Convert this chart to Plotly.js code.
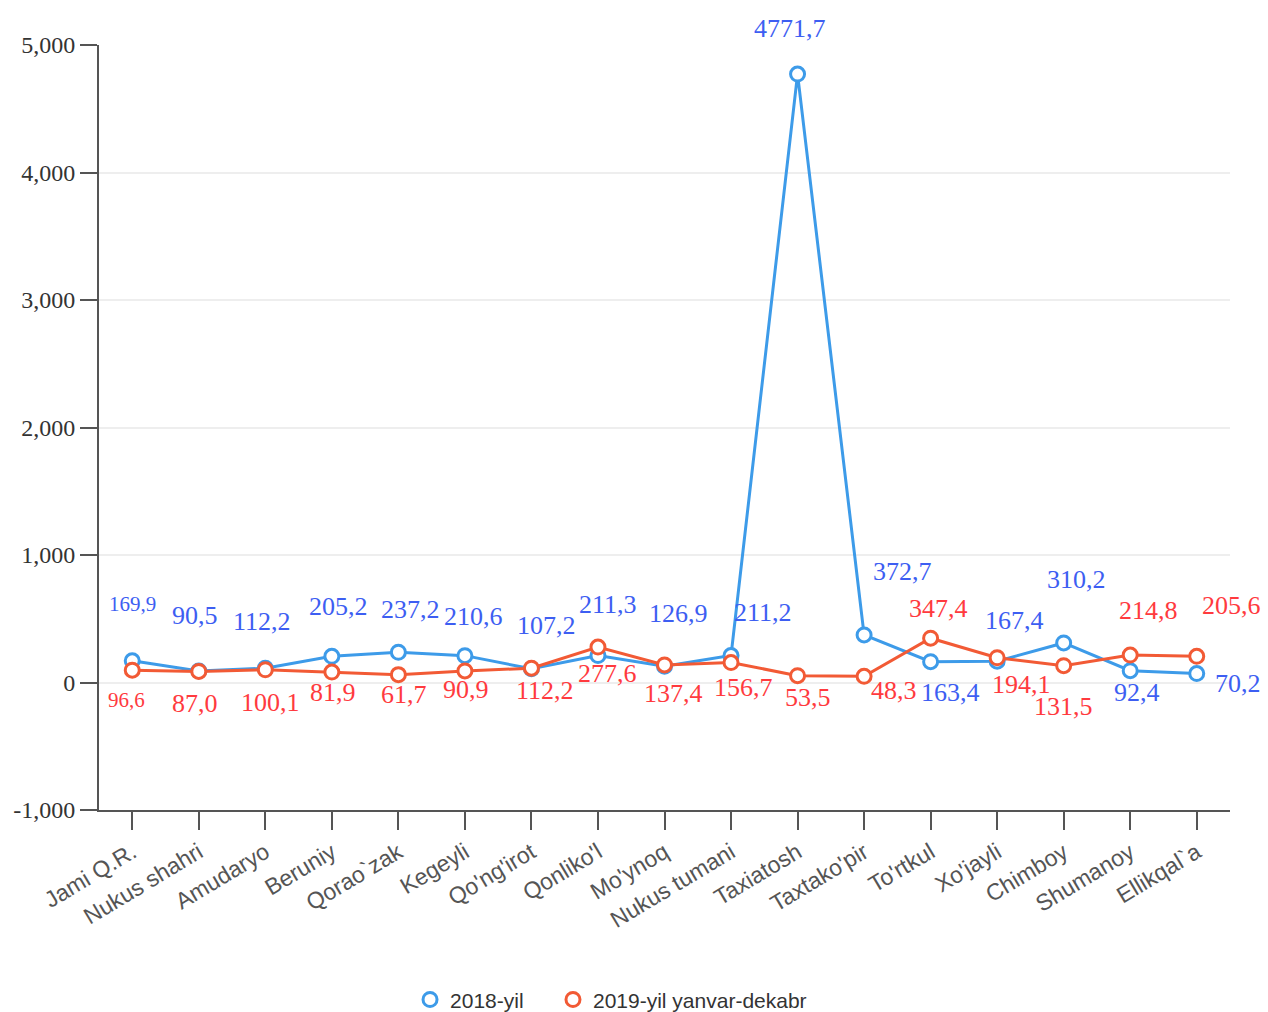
<!DOCTYPE html>
<html>
<head>
<meta charset="utf-8">
<script src="https://cdn.plot.ly/plotly-3.0.1.min.js"></script>
<style>
  html, body { margin: 0; padding: 0; background: #ffffff; }
  #chart { width: 1268px; height: 1012px; }
</style>
</head>
<body>
<div id="chart"></div>
<script>
// ---- data ----
const categories = ["Jami Q.R.", "Nukus shahri", "Amudaryo", "Beruniy", "Qorao`zak", "Kegeyli",
  "Qo'ng'irot", "Qonliko'l", "Mo'ynoq", "Nukus tumani", "Taxiatosh", "Taxtako'pir",
  "To'rtkul", "Xo'jayli", "Chimboy", "Shumanoy", "Ellikqal`a"];
const values2018 = [169.9, 90.5, 112.2, 205.2, 237.2, 210.6, 107.2, 211.3, 126.9, 211.2, 4771.7, 372.7, 163.4, 167.4, 310.2, 92.4, 70.2];
const values2019 = [96.6, 87.0, 100.1, 81.9, 61.7, 90.9, 112.2, 277.6, 137.4, 156.7, 53.5, 48.3, 347.4, 194.1, 131.5, 214.8, 205.6];
const seriesNames = ["2018-yil", "2019-yil yanvar-dekabr"];
const yTickVals = [-1000, 0, 1000, 2000, 3000, 4000, 5000];
const yTickText = ["-1,000", "0", "1,000", "2,000", "3,000", "4,000", "5,000"];

// ---- label placement (pixel offsets from each point) ----
const blueShift = [[0,57],[-4,55],[-3,47],[7,50],[12,43],[9,39],[15,43],[10,51],[14,53],[32,43],[-8,46],[38,63],[20,-31],[17,41],[13,63],[7,-22],[41,-10]];
const redShift  = [[-6,-30],[-4,-32],[5,-33],[1,-20],[6,-20],[1,-19],[14,-22],[10,-26],[9,-29],[12,-25],[10,-22],[30,-14],[8,30],[24,-27],[0,-41],[18,45],[35,51]];
const blueSize = [21,26,26,26,26,26,26,26,26,26,26,26,26,26,26,26,26];
const redSize  = [21,26,26,26,26,26,26,26,26,26,26,26,26,26,26,26,26];

const blueLine = '#3d9be9', redLine = '#f25a35';
const blueText = '#3d5ef2', redText = '#ff3a3e';

const fmt = v => v.toFixed(1).replace('.', ',');

const markerBase = { symbol: 'circle', size: 14, color: '#ffffff', line: { width: 3 } };

const traces = [
  { x: categories, y: values2018, type: 'scatter', mode: 'lines+markers', name: seriesNames[0],
    showlegend: false, hoverinfo: 'x+y',
    line: { color: blueLine, width: 3 },
    marker: Object.assign({}, markerBase, { line: { color: blueLine, width: 3 } }) },
  { x: categories, y: values2019, type: 'scatter', mode: 'lines+markers', name: seriesNames[1],
    showlegend: false, hoverinfo: 'x+y',
    line: { color: redLine, width: 3 },
    marker: Object.assign({}, markerBase, { line: { color: redLine, width: 3 } }) },
  // legend-only entries (no data drawn)
  { x: [null], y: [null], type: 'scatter', mode: 'markers', name: seriesNames[0], showlegend: true,
    legend: 'legend',
    marker: Object.assign({}, markerBase, { line: { color: blueLine, width: 3 } }) },
  { x: [null], y: [null], type: 'scatter', mode: 'markers', name: seriesNames[1], showlegend: true,
    legend: 'legend2',
    marker: Object.assign({}, markerBase, { line: { color: redLine, width: 3 } }) }
];

const annotations = [];
categories.forEach((c, i) => {
  annotations.push({ x: c, y: values2018[i], xref: 'x', yref: 'y', text: fmt(values2018[i]),
    showarrow: false, xshift: blueShift[i][0], yshift: blueShift[i][1],
    font: { family: 'Liberation Serif, Times New Roman, serif', size: blueSize[i], color: blueText } });
  annotations.push({ x: c, y: values2019[i], xref: 'x', yref: 'y', text: fmt(values2019[i]),
    showarrow: false, xshift: redShift[i][0], yshift: redShift[i][1],
    font: { family: 'Liberation Serif, Times New Roman, serif', size: redSize[i], color: redText } });
});

const legendFont = { family: 'Liberation Sans, Arial, sans-serif', size: 21, color: '#333333' };

const layout = {
  width: 1268, height: 1012,
  margin: { l: 99, r: 38, t: 45, b: 202, autoexpand: false },
  paper_bgcolor: '#ffffff', plot_bgcolor: '#ffffff',
  showlegend: true,
  legend: { orientation: 'h', x: 0.275, xanchor: 'left', xref: 'paper',
    yref: 'container', y: 0.012, yanchor: 'middle', font: legendFont, itemwidth: 30 },
  legend2: { orientation: 'h', x: 0.4014, xanchor: 'left', xref: 'paper',
    yref: 'container', y: 0.012, yanchor: 'middle', font: legendFont, itemwidth: 30 },
  xaxis: {
    type: 'category', range: [-0.5, 16.5], automargin: false,
    showgrid: false, zeroline: false,
    showline: true, linecolor: '#555555', linewidth: 2,
    ticks: 'outside', ticklen: 18, tickwidth: 2, tickcolor: '#555555',
    tickangle: -31,
    tickfont: { family: 'Liberation Sans, Arial, sans-serif', size: 23, color: '#555555' }
  },
  yaxis: {
    range: [-1000, 5000], tickvals: yTickVals, ticktext: yTickText, automargin: false,
    showgrid: true, gridcolor: '#eeeeee', gridwidth: 2,
    zeroline: true, zerolinecolor: '#eeeeee', zerolinewidth: 2,
    showline: true, linecolor: '#555555', linewidth: 2,
    ticks: 'outside', ticklen: 17, tickwidth: 2, tickcolor: '#555555',
    tickfont: { family: 'Liberation Serif, Times New Roman, serif', size: 24, color: '#333333' }
  },
  annotations: annotations
};

Plotly.newPlot('chart', traces, layout, { displayModeBar: false, staticPlot: true });
</script>
</body>
</html>
